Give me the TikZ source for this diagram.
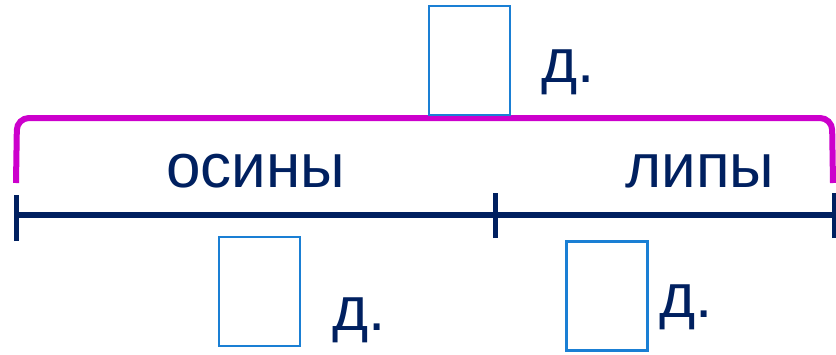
\documentclass[tikz,border=0pt]{standalone}
\usepackage{fontspec}
\setmainfont{Liberation Sans}
\definecolor{navy}{HTML}{002060}
\definecolor{pinkc}{HTML}{CC00CC}
\definecolor{boxblue}{HTML}{1A7FD4}
\begin{document}
\begin{tikzpicture}[x=1pt,y=-1pt,
  lbl/.style={font=\fontsize{62}{70}\selectfont, text=navy, inner sep=0pt, anchor=base west},
  ansbox/.style={draw=boxblue, line width=2.2pt, inner sep=0pt, minimum width=81pt, minimum height=109pt, fill=white},
  seg/.style={draw=navy, line width=6pt},
  tick/.style={draw=navy, line width=5pt},
  brace/.style={draw=pinkc, line width=6pt, rounded corners=12pt}]
\useasboundingbox (0,0) rectangle (836,354);
% coordinates
\coordinate (bl) at (16,183);
\coordinate (btl) at (17,118);
\coordinate (btr) at (832,118);
\coordinate (br) at (833,183);
\coordinate (L) at (16,215);
\coordinate (M) at (495,215);
\coordinate (R) at (834,215);
% brace
\draw[brace] (bl) -- (btl) -- (btr) -- (br);
% segment
\draw[seg] (L) -- (R);
\draw[tick] ([yshift=-26pt]L) -- ([yshift=20pt]L);
\draw[tick] ([yshift=-23pt]M) -- ([yshift=22pt]M);
\draw[tick] ([yshift=-23pt]R) -- ([yshift=22pt]R);
% labels
\node[lbl] (os) at (166,187) {осины};
\node[lbl] (li) at (625,187) {липы};
% boxes
\node[ansbox] (b1) at (469.5,60.5) {};
\node[ansbox] (b2) at (259.5,291.5) {};
\node[ansbox] (b3) at (607,296) {};
\node[lbl] (d1) at (541,82) {д.};
\node[lbl] (d2) at (332,330) {д.};
\node[lbl] (d3) at (659,317) {д.};
\end{tikzpicture}
\end{document}
